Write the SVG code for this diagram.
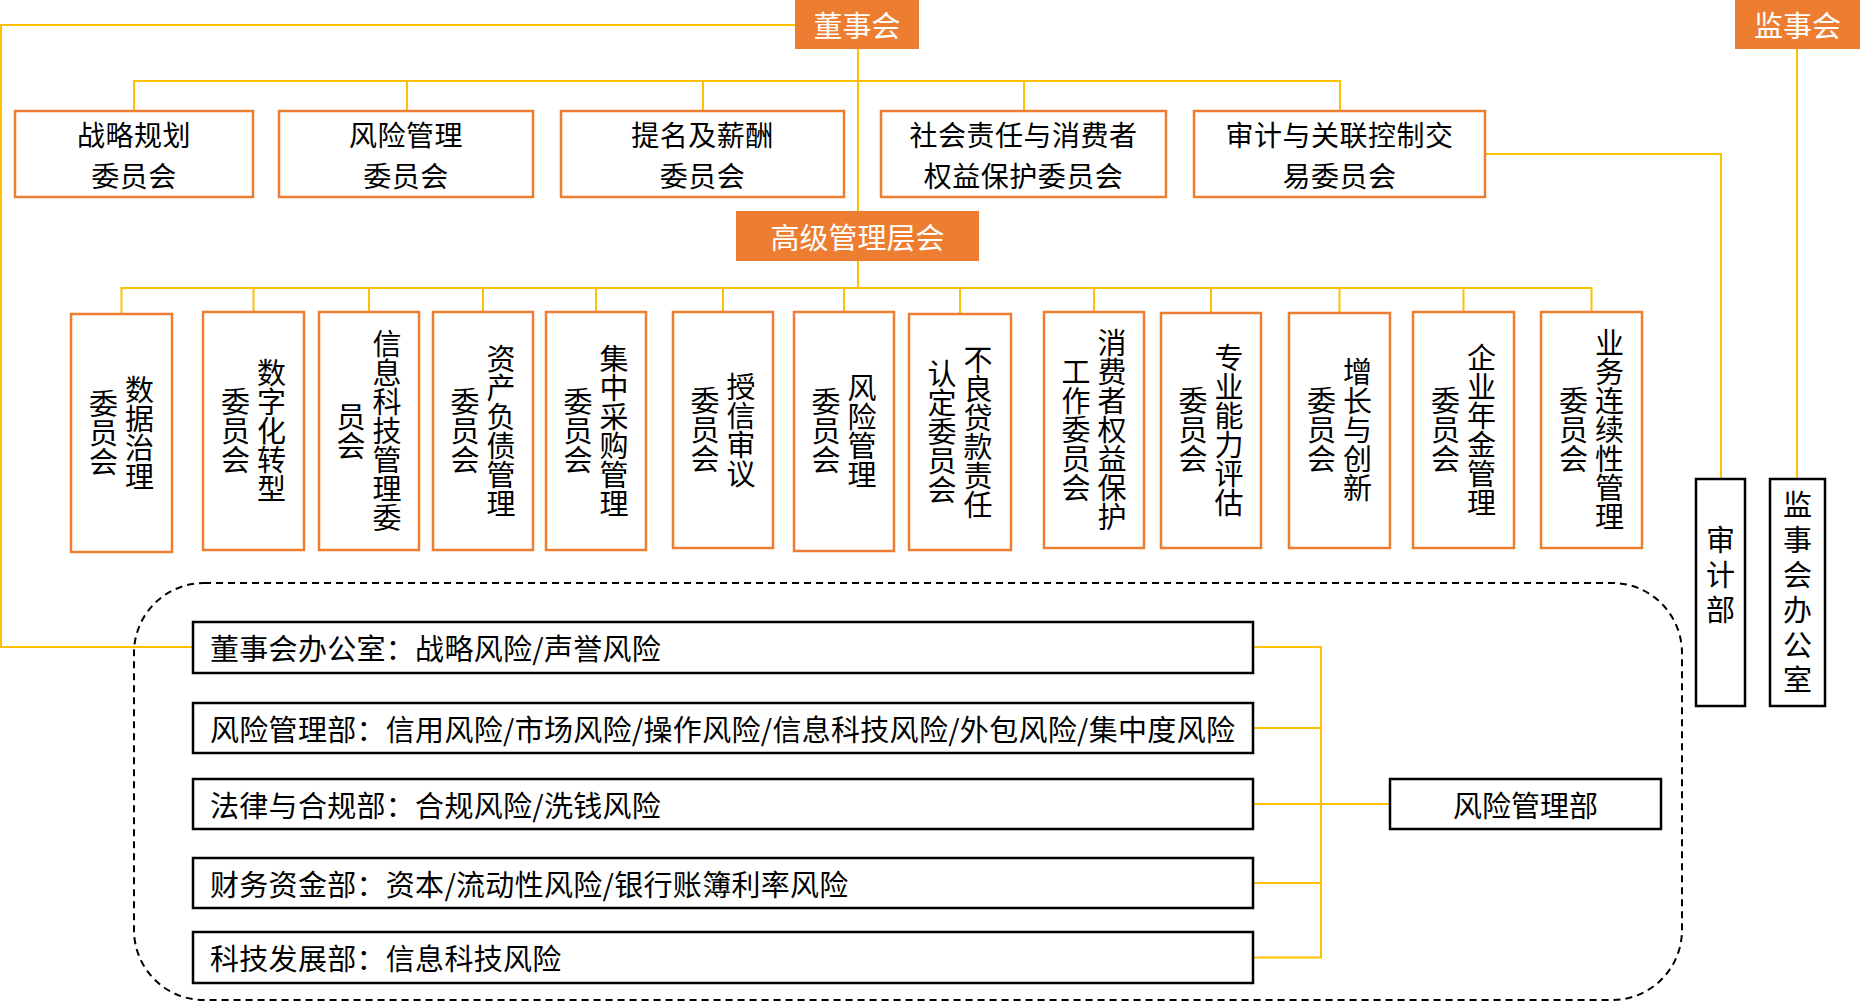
<svg xmlns="http://www.w3.org/2000/svg" width="1860" height="1002" viewBox="0 0 1860 1002">
<style>
text{font-family:"Noto Sans CJK SC","Noto Sans",sans-serif;font-size:29px;fill:#000}
.hd{fill:#ED7D31}
.hdt{fill:#fff;text-anchor:middle;dominant-baseline:central}
.ob{fill:#fff;stroke:#ED7D31;stroke-width:2.5}
.bb{fill:#fff;stroke:#000;stroke-width:2.5}
.ct{text-anchor:middle;dominant-baseline:central}
.ct2{text-anchor:middle;dominant-baseline:central;font-size:28px;letter-spacing:0.5px}
.vt{writing-mode:vertical-rl;text-orientation:upright;text-anchor:middle;dominant-baseline:central}
.lt{dominant-baseline:central;letter-spacing:0.3px}
.cn{fill:none;stroke:#FFC000;stroke-width:2}
.dash{fill:none;stroke:#000;stroke-width:2;stroke-dasharray:7 5}
</style>
<g id="connectors">
<path class="cn" d="M795 25H1V647H193"/>
<path class="cn" d="M858 49V211M858 261V288"/>
<path class="cn" d="M134 111V81H1340V111M407 81V111M703 81V111M1024 81V111"/>
<path class="cn" d="M121.5 314V288H1591.5V312M253.5 288V312M369 288V312M483 288V312M596 288V312M723 288V312M844 288V312M960 288V314M1094 288V312M1211 288V313M1339.5 288V313M1463.5 288V312"/>
<path class="cn" d="M1485 154H1721V479"/>
<path class="cn" d="M1797 49V479"/>
<path class="cn" d="M1253 647H1321V957.5H1253M1253 728H1321M1253 804H1390M1253 883H1321"/>
</g>
<rect class="dash" x="134" y="583" width="1548" height="417" rx="70" ry="70"/>
<g id="n-dongshihui"><rect class="hd" x="795" y="0" width="124" height="49"/><text class="hdt" x="857" y="24">董事会</text></g>
<g id="n-jianshihui"><rect class="hd" x="1735" y="0" width="125" height="49"/><text class="hdt" x="1797.5" y="24">监事会</text></g>
<g id="n-gaoji"><rect class="hd" x="736" y="211" width="243" height="50"/><text class="hdt" x="857.5" y="236">高级管理层会</text></g>
<g id="c1"><rect class="ob" x="15" y="111" width="238" height="86"/><text class="ct2" x="134" y="134">战略规划<tspan x="134" dy="41">委员会</tspan></text></g>
<g id="c2"><rect class="ob" x="279" y="111" width="254" height="86"/><text class="ct2" x="406" y="134">风险管理<tspan x="406" dy="41">委员会</tspan></text></g>
<g id="c3"><rect class="ob" x="561" y="111" width="283" height="86"/><text class="ct2" x="702.5" y="134">提名及薪酬<tspan x="702.5" dy="41">委员会</tspan></text></g>
<g id="c4"><rect class="ob" x="881" y="111" width="285" height="86"/><text class="ct2" x="1023.5" y="134">社会责任与消费者<tspan x="1023.5" dy="41">权益保护委员会</tspan></text></g>
<g id="c5"><rect class="ob" x="1194" y="111" width="291" height="86"/><text class="ct2" x="1339.5" y="134">审计与关联控制交<tspan x="1339.5" dy="41">易委员会</tspan></text></g>
<g id="s1"><rect class="ob" x="71" y="314" width="101" height="238"/><text class="vt" x="139.5" y="433">数据治理</text><text class="vt" x="103.5" y="433">委员会</text></g>
<g id="s2"><rect class="ob" x="203" y="312" width="101" height="238"/><text class="vt" x="271.5" y="431">数字化转型</text><text class="vt" x="235.5" y="431">委员会</text></g>
<g id="s3"><rect class="ob" x="319" y="312" width="100" height="238"/><text class="vt" x="387" y="431">信息科技管理委</text><text class="vt" x="351" y="431">员会</text></g>
<g id="s4"><rect class="ob" x="433" y="312" width="100" height="238"/><text class="vt" x="501" y="431">资产负债管理</text><text class="vt" x="465" y="431">委员会</text></g>
<g id="s5"><rect class="ob" x="546" y="312" width="100" height="238"/><text class="vt" x="614" y="431">集中采购管理</text><text class="vt" x="578" y="431">委员会</text></g>
<g id="s6"><rect class="ob" x="673" y="312" width="100" height="236"/><text class="vt" x="741" y="430">授信审议</text><text class="vt" x="705" y="430">委员会</text></g>
<g id="s7"><rect class="ob" x="794" y="312" width="100" height="239"/><text class="vt" x="862" y="431">风险管理</text><text class="vt" x="826" y="431">委员会</text></g>
<g id="s8"><rect class="ob" x="909" y="314" width="102" height="236"/><text class="vt" x="978" y="432">不良贷款责任</text><text class="vt" x="942" y="432">认定委员会</text></g>
<g id="s9"><rect class="ob" x="1044" y="312" width="100" height="236"/><text class="vt" x="1112" y="430">消费者权益保护</text><text class="vt" x="1076" y="430">工作委员会</text></g>
<g id="s10"><rect class="ob" x="1161" y="313" width="100" height="235"/><text class="vt" x="1229" y="430">专业能力评估</text><text class="vt" x="1193" y="430">委员会</text></g>
<g id="s11"><rect class="ob" x="1289" y="313" width="101" height="235"/><text class="vt" x="1357.5" y="430">增长与创新</text><text class="vt" x="1321.5" y="430">委员会</text></g>
<g id="s12"><rect class="ob" x="1413" y="312" width="101" height="236"/><text class="vt" x="1481.5" y="430">企业年金管理</text><text class="vt" x="1445.5" y="430">委员会</text></g>
<g id="s13"><rect class="ob" x="1541" y="312" width="101" height="236"/><text class="vt" x="1609.5" y="430">业务连续性管理</text><text class="vt" x="1573.5" y="430">委员会</text></g>
<g id="n-shenji"><rect class="bb" x="1696" y="479" width="49" height="227"/><text class="vt" x="1720.5" y="578" style="letter-spacing:6px">审计部</text></g>
<g id="n-jianban"><rect class="bb" x="1770" y="479" width="55" height="227"/><text class="vt" x="1797.5" y="595" style="letter-spacing:6px">监事会办公室</text></g>
<g id="r1"><rect class="bb" x="193" y="622" width="1060" height="51"/><text class="lt" x="210" y="647">董事会办公室：战略风险/声誉风险</text></g>
<g id="r2"><rect class="bb" x="193" y="703" width="1060" height="50"/><text class="lt" x="210" y="728">风险管理部：信用风险/市场风险/操作风险/信息科技风险/外包风险/集中度风险</text></g>
<g id="r3"><rect class="bb" x="193" y="779" width="1060" height="50"/><text class="lt" x="210" y="804">法律与合规部：合规风险/洗钱风险</text></g>
<g id="r4"><rect class="bb" x="193" y="858" width="1060" height="50"/><text class="lt" x="210" y="883">财务资金部：资本/流动性风险/银行账簿利率风险</text></g>
<g id="r5"><rect class="bb" x="193" y="932" width="1060" height="51"/><text class="lt" x="210" y="957">科技发展部：信息科技风险</text></g>
<g id="n-fxglb"><rect class="bb" x="1390" y="779" width="271" height="50"/><text class="ct" x="1525.5" y="804">风险管理部</text></g>
</svg>
